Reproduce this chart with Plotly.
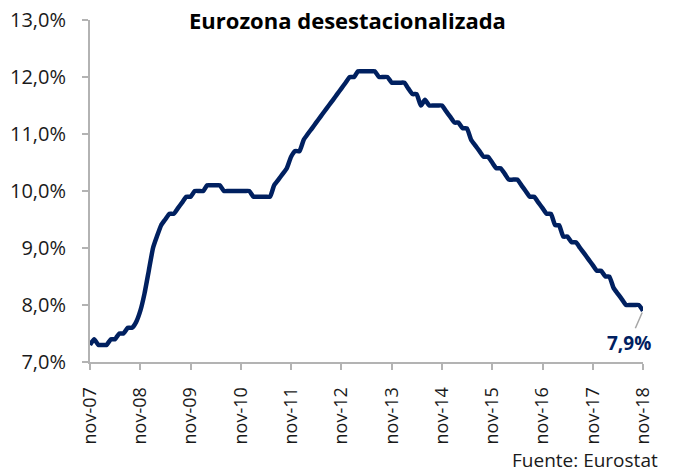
import pandas as pd
import plotly.graph_objects as go

# Monthly euro-area unemployment rate (%), Nov 2007 -> Nov 2018
months = pd.date_range("2007-11-01", "2018-11-01", freq="MS")
unemployment = [
    7.3, 7.4, 7.3, 7.3, 7.3, 7.4, 7.4, 7.5, 7.5, 7.6, 7.6, 7.7,      # nov07-oct08
    7.9, 8.2, 8.6, 9.0, 9.2, 9.4, 9.5, 9.6, 9.6, 9.7, 9.8, 9.9,      # nov08-oct09
    9.9, 10.0, 10.0, 10.0, 10.1, 10.1, 10.1, 10.1, 10.0, 10.0, 10.0, 10.0,  # nov09-oct10
    10.0, 10.0, 10.0, 9.9, 9.9, 9.9, 9.9, 9.9, 10.1, 10.2, 10.3, 10.4,     # nov10-oct11
    10.6, 10.7, 10.7, 10.9, 11.0, 11.1, 11.2, 11.3, 11.4, 11.5, 11.6, 11.7,  # nov11-oct12
    11.8, 11.9, 12.0, 12.0, 12.1, 12.1, 12.1, 12.1, 12.1, 12.0, 12.0, 12.0,  # nov12-oct13
    11.9, 11.9, 11.9, 11.9, 11.8, 11.7, 11.7, 11.5, 11.6, 11.5, 11.5, 11.5,  # nov13-oct14
    11.5, 11.4, 11.3, 11.2, 11.2, 11.1, 11.1, 10.9, 10.8, 10.7, 10.6, 10.6,  # nov14-oct15
    10.5, 10.4, 10.4, 10.3, 10.2, 10.2, 10.2, 10.1, 10.0, 9.9, 9.9, 9.8,     # nov15-oct16
    9.7, 9.6, 9.6, 9.4, 9.4, 9.2, 9.2, 9.1, 9.1, 9.0, 8.9, 8.8,              # nov16-oct17
    8.7, 8.6, 8.6, 8.5, 8.5, 8.3, 8.2, 8.1, 8.0, 8.0, 8.0, 8.0,              # nov17-oct18
    7.9,                                                                     # nov18
]

tick_dates = pd.date_range("2007-11-01", "2018-11-01", freq="12MS")
tick_labels = ["nov-07", "nov-08", "nov-09", "nov-10", "nov-11", "nov-12",
               "nov-13", "nov-14", "nov-15", "nov-16", "nov-17", "nov-18"]
y_ticks = [7, 8, 9, 10, 11, 12, 13]
y_tick_labels = ["7,0%", "8,0%", "9,0%", "10,0%", "11,0%", "12,0%", "13,0%"]

title_text = "Eurozona desestacionalizada"
source_text = "Fuente: Eurostat"
last_label = f"{unemployment[-1]:.1f}%".replace(".", ",")

NAVY = "#002060"
AXIS = "#b3b3b3"
TXT = "#1a1a1a"
FONT = "Open Sans, Noto Sans, sans-serif"

fig = go.Figure()
fig.add_trace(go.Scatter(
    x=months, y=unemployment, mode="lines",
    line=dict(color=NAVY, width=4.5, shape="spline", smoothing=0.5),
    hoverinfo="skip", showlegend=False,
))

fig.update_layout(
    width=679, height=472,
    margin=dict(l=90, r=36, t=20, b=110, autoexpand=False),
    paper_bgcolor="white", plot_bgcolor="white",
    font=dict(family=FONT, size=17, color=TXT),
    showlegend=False,
)

fig.update_xaxes(
    range=[months[0], months[-1]],
    tickvals=tick_dates, ticktext=tick_labels, tickangle=-90,
    showgrid=False, zeroline=False, automargin=False,
    showline=True, linecolor=AXIS, linewidth=2,
    ticks="outside", ticklen=6, tickwidth=2, tickcolor=AXIS,
    tickfont=dict(family=FONT, size=18, color=TXT),
    ticklabelstandoff=10, ticklabeloverflow="allow",
)
fig.update_yaxes(
    range=[7, 13], tickvals=y_ticks, ticktext=y_tick_labels,
    showgrid=False, zeroline=False, automargin=False,
    showline=True, linecolor=AXIS, linewidth=2,
    ticks="outside", ticklen=6, tickwidth=2, tickcolor=AXIS,
    tickfont=dict(family=FONT, size=20, color=TXT),
    ticklabelstandoff=12, ticklabeloverflow="allow",
)

fig.add_annotation(
    x=months[-1], y=unemployment[-1], xref="x", yref="y",
    text=f"<b>{last_label}</b>", showarrow=True,
    arrowhead=0, arrowwidth=1.5, arrowcolor="#a6a6a6",
    ax=-14, ay=32, standoff=2,
    font=dict(family=FONT, size=19, color=NAVY),
)
fig.add_annotation(
    x=0.465, y=1.0, xref="paper", yref="paper",
    xanchor="center", yanchor="middle",
    text=f"<b>{title_text}</b>", showarrow=False,
    font=dict(family=FONT, size=22, color="black"),
)
fig.add_annotation(
    x=1.0307, y=-0.2865, xref="paper", yref="paper",
    xanchor="right", yanchor="middle",
    text=source_text, showarrow=False,
    font=dict(family=FONT, size=19, color=TXT),
)

# remove the browser's default 8px body margin so the figure sits at the window origin
fig.write_html(
    "out.html",
    config={"displayModeBar": False, "staticPlot": True},
    post_script="document.body.style.margin='0';",
)
